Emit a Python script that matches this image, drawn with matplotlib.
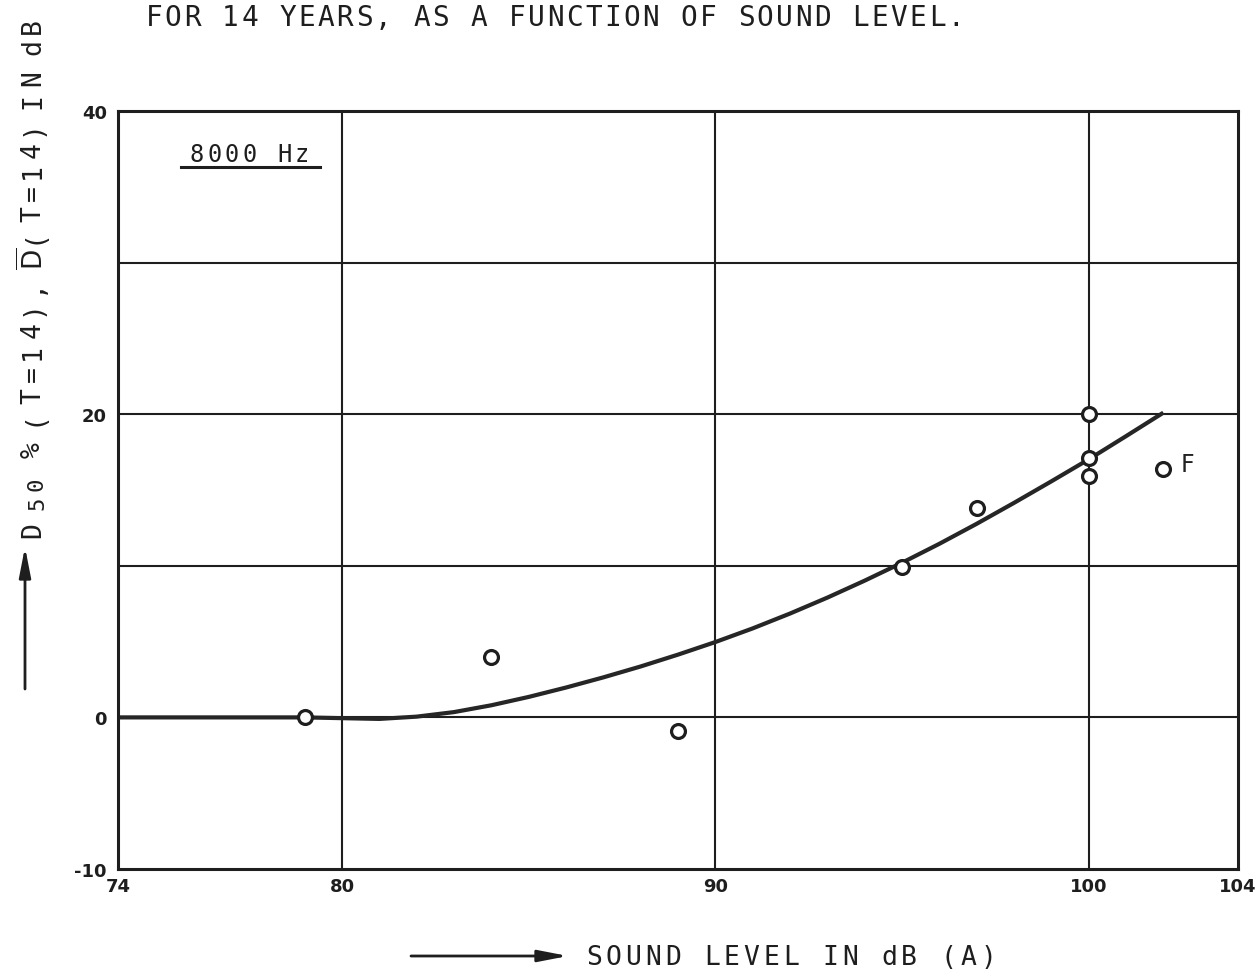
import matplotlib
matplotlib.use("Agg")
import matplotlib.pyplot as plt
from matplotlib.patches import FancyArrowPatch

plt.rcParams['mathtext.fontset'] = 'custom'
plt.rcParams['mathtext.rm'] = 'DejaVu Sans Mono'
plt.rcParams['mathtext.default'] = 'regular'

# measured points (sound level, hearing loss at 8000 Hz)
level = [79, 84, 89, 95, 97, 100, 100, 100]
loss = [0.0, 4.0, -0.9, 9.9, 13.8, 20.0, 17.1, 15.9]
f_level = 102
f_loss = 16.4

# fitted curve read along its length
curve_x = [74, 75, 76, 77, 78, 79, 80, 81, 82, 83, 84, 85, 86, 87, 88,
           89, 90, 91, 92, 93, 94, 95, 96, 97, 98, 99, 100, 101, 102]
curve_y = [0.0, 0.0, 0.0, 0.0, 0.0, 0.0, -0.05, -0.1, 0.05, 0.35, 0.8, 1.35, 1.97, 2.64, 3.36,
           4.14, 4.97, 5.87, 6.85, 7.9, 9.02, 10.2, 11.45, 12.77, 14.15, 15.57, 17.02, 18.55, 20.1]

xticks = [74, 80, 90, 100, 104]
yticks = [-10, 0, 20, 40]

W, H = 1259, 970
INK = '#1e1e1e'

fig = plt.figure(figsize=(W / 100, H / 100), dpi=100)
ax = fig.add_axes([118 / W, 1 - 870 / H, 1120 / W, 758 / H])


def spaced(x0, y0, s, step, size=19, vertical=False, dx=0):
    # plotter lettering: one glyph per fixed step, in pixel coordinates
    for i, ch in enumerate(s):
        if ch == ' ':
            continue
        if vertical:
            fig.text((x0 + dx) / W, 1 - (y0 - i * step) / H, ch, rotation=90,
                     fontsize=size, family='DejaVu Sans Mono', color=INK,
                     ha='center', va='center')
        else:
            fig.text((x0 + i * step) / W, 1 - y0 / H, ch, fontsize=size,
                     family='DejaVu Sans Mono', color=INK, ha='center', va='center')


ax.set_xlim(74, 104)
ax.set_ylim(-10, 40)

for gx in [80, 90, 100]:
    ax.axvline(gx, color=INK, lw=1.5, zorder=1)
for gy in [0, 10, 20, 30]:
    ax.axhline(gy, color=INK, lw=1.5, zorder=1)

ax.plot(curve_x, curve_y, color='#262626', lw=3.0, zorder=2, solid_capstyle='butt')
ax.plot(level, loss, 'o', ms=10, mfc='white', mec=INK, mew=2.3, zorder=3)
ax.plot([f_level], [f_loss], 'o', ms=10, mfc='white', mec=INK, mew=2.3, zorder=3)
ax.text(f_level + 0.45, f_loss + 0.3, 'F', fontsize=17, family='DejaVu Sans',
        va='center', ha='left', color='#222222')

for s in ax.spines.values():
    s.set_linewidth(2.2)
    s.set_color(INK)

ax.set_xticks(xticks)
ax.set_yticks(yticks)
ax.set_xticklabels([str(t) for t in xticks], fontsize=13, fontweight='bold',
                   family='DejaVu Sans Condensed', color=INK)
ax.set_yticklabels([str(t) for t in yticks], fontsize=13, fontweight='bold',
                   family='DejaVu Sans Condensed', color=INK)
ax.tick_params(length=0, pad=8)
ax.tick_params(axis='x', pad=6)

# frequency tag with underline
spaced(197, 155, '8000 Hz', 17.5, size=17)
fig.add_artist(plt.Line2D([181 / W, 320 / W], [1 - 168 / H, 1 - 168 / H],
                          color=INK, lw=2.2))

# heading
spaced(154, 18, 'FOR 14 YEARS, AS A FUNCTION OF SOUND LEVEL.', 19.1, size=20)

# y axis caption, read bottom to top
spaced(33, 530, 'D', 0, size=19, vertical=True)
spaced(33, 503, '50', 19, size=16, vertical=True, dx=4)
spaced(33, 450, '%', 0, size=19, vertical=True)
spaced(33, 418, '(T=14),', 22, size=19, vertical=True)
fig.text(33 / W, 1 - 259 / H, r'$\overline{D}$', rotation=90, fontsize=19,
         color=INK, ha='center', va='center')
spaced(33, 236, '(T=14)', 21.6, size=19, vertical=True)
spaced(33, 101, 'IN', 23, size=19, vertical=True)
spaced(33, 47, 'dB', 21, size=19, vertical=True)
fig.add_artist(FancyArrowPatch(
    (25 / W, 1 - 690 / H), (25 / W, 1 - 548 / H), transform=fig.transFigure,
    arrowstyle='-|>,head_length=18,head_width=3.5', lw=2, color=INK,
    mutation_scale=1, shrinkA=0, shrinkB=0))

# x axis caption with arrow
spaced(594, 958, 'SOUND LEVEL IN dB (A)', 19.7, size=19)
fig.add_artist(FancyArrowPatch(
    (411 / W, 1 - 957 / H), (568 / W, 1 - 957 / H), transform=fig.transFigure,
    arrowstyle='-|>,head_length=18,head_width=3.5', lw=2, color=INK,
    mutation_scale=1, shrinkA=0, shrinkB=0))

fig.savefig('out.png', dpi=100)
